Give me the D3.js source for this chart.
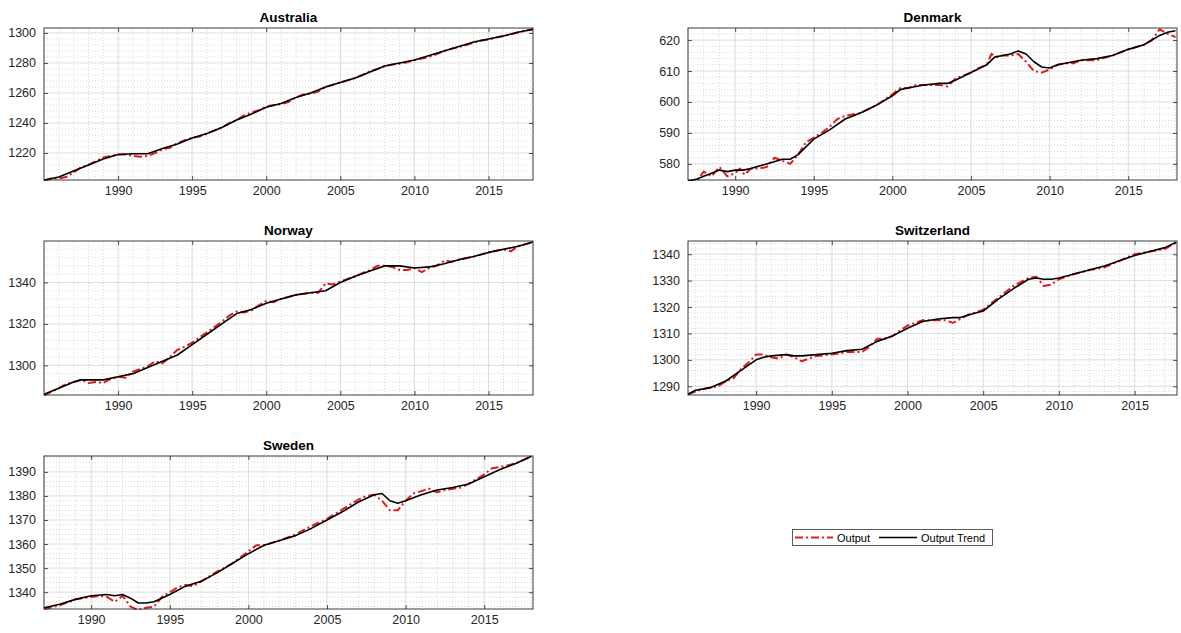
<!DOCTYPE html>
<html>
<head>
<meta charset="utf-8">
<script src="https://cdn.jsdelivr.net/npm/d3@7"></script>
<style>
  body { margin: 0; background: #fff; }
  svg { display: block; font-family: "Liberation Sans", Arial, sans-serif; }
</style>
</head>
<body>
<svg id="chart" width="1181" height="633"></svg>
<script>
// ---- Data: log output level and its trend, [year, value] ----
const australiaOutput = [[1985,1201.5],[1985.5,1203],[1986,1203],[1986.5,1204],[1987,1207],[1987.5,1210.5],[1988,1212],[1988.5,1214.5],[1989,1217],[1989.5,1218],[1990,1219],[1990.5,1219],[1991,1218],[1991.5,1217.5],[1992,1218],[1992.5,1220],[1993,1222.5],[1993.5,1223.5],[1994,1226.5],[1994.5,1228.5],[1995,1230],[1995.5,1231],[1996,1233],[1996.5,1235],[1997,1237],[1997.5,1240],[1998,1242],[1998.5,1245],[1999,1247],[1999.5,1248.5],[2000,1251],[2000.5,1252],[2001,1252.5],[2001.5,1254],[2002,1257],[2002.5,1259],[2003,1259.5],[2003.5,1261],[2004,1264],[2004.5,1265.5],[2005,1267],[2005.5,1268.5],[2006,1270],[2006.5,1272],[2007,1274.5],[2007.5,1276],[2008,1278],[2008.5,1279],[2009,1279.5],[2009.5,1280.5],[2010,1282],[2010.5,1283],[2011,1284],[2011.5,1286],[2012,1288],[2012.5,1289.5],[2013,1290.5],[2013.5,1292],[2014,1293.5],[2014.5,1295],[2015,1295.5],[2015.5,1297],[2016,1298],[2016.5,1299],[2017,1300.5],[2017.5,1301.5],[2018,1302.5]];
const australiaTrend = [[1985,1202],[1986,1204],[1987,1208],[1988,1212],[1989,1216],[1990,1219],[1991,1219.5],[1992,1219.5],[1993,1223],[1994,1226],[1995,1230],[1996,1233],[1997,1237],[1998,1242],[1999,1246],[2000,1250.5],[2001,1253],[2002,1257],[2003,1260],[2004,1264],[2005,1267],[2006,1270],[2007,1274],[2008,1278],[2009,1280],[2010,1282],[2011,1285],[2012,1288],[2013,1291],[2014,1294],[2015,1296],[2016,1298],[2017,1300.5],[2018,1302.5]];

const denmarkOutput = [[1987,574],[1987.5,574],[1988,577.5],[1988.5,576],[1989,579],[1989.5,576],[1990,577],[1990.3,578.5],[1990.6,576.5],[1991,578.5],[1991.5,578.5],[1992,579],[1992.5,582],[1993,581],[1993.5,580],[1994,583],[1994.5,587],[1995,588.5],[1995.5,590],[1996,592],[1996.5,594.5],[1997,595.5],[1998,596.5],[1999,599],[2000,602.5],[2000.5,604.5],[2001,604.5],[2001.5,605.5],[2002,605.5],[2003,605.5],[2003.5,605],[2004,607.5],[2005,609.5],[2005.5,611],[2006,612],[2006.3,615.5],[2006.7,614.5],[2007,615],[2007.5,615],[2008,615.5],[2008.5,613],[2009,610],[2009.5,609.5],[2010,610.5],[2010.5,612],[2011,612.5],[2011.5,612.5],[2012,613.5],[2013,613.5],[2014,615],[2015,617],[2016,618.5],[2016.5,620],[2017,623.5],[2017.5,622],[2018,621]];
const denmarkTrend = [[1987,574.5],[1987.5,575],[1988,576],[1988.5,577],[1989,578],[1989.5,577.5],[1990,578],[1990.5,578],[1991,578.5],[1992,580],[1993,581.5],[1993.5,581.5],[1994,583],[1995,588],[1996,591],[1997,594.5],[1998,596.5],[1999,599],[2000,602],[2000.5,604],[2001,604.5],[2002,605.5],[2003,606],[2003.5,606],[2004,607],[2005,609.5],[2006,612],[2006.5,614.5],[2007,615],[2007.5,615.5],[2008,616.5],[2008.5,615.5],[2009,613],[2009.5,611.3],[2010,611],[2010.5,612],[2011,612.5],[2012,613.5],[2013,614],[2014,615],[2015,617],[2016,618.5],[2017,621.5],[2017.5,622.5],[2018,623]];

const norwayOutput = [[1985,1285.5],[1986,1289],[1986.5,1291],[1987,1292],[1987.5,1293],[1988,1291.5],[1988.5,1292],[1989,1291.5],[1989.5,1293.5],[1990,1294.5],[1990.5,1294],[1991,1297],[1992,1299.5],[1992.5,1302],[1993,1301],[1993.5,1304],[1994,1307.5],[1994.5,1309],[1995,1311],[1996,1316],[1997,1321],[1997.5,1324],[1998,1326],[1998.5,1325.5],[1999,1326.5],[1999.5,1329],[2000,1331],[2000.5,1330.5],[2001,1332],[2002,1334],[2002.5,1334.5],[2003,1335],[2003.5,1335],[2004,1339.5],[2004.5,1339],[2005,1340.5],[2006,1343],[2007,1346],[2007.5,1348],[2008,1348],[2008.5,1347.5],[2009,1346],[2009.5,1346],[2010,1347],[2010.5,1345],[2011,1347],[2011.5,1348],[2012,1350.5],[2012.5,1350],[2013,1351],[2014,1352.5],[2015,1354.5],[2016,1356],[2016.5,1355],[2017,1357.5],[2018,1359.5]];
const norwayTrend = [[1985,1286],[1986,1289],[1987,1292],[1987.5,1293],[1988,1293],[1989,1293],[1990,1294.5],[1991,1296],[1992,1299],[1993,1302],[1994,1305],[1995,1310],[1996,1315],[1997,1320],[1998,1325],[1998.5,1326],[1999,1327],[2000,1330],[2001,1332],[2002,1334],[2003,1335],[2004,1336],[2005,1340],[2006,1343],[2007,1345.5],[2008,1348],[2009,1348],[2010,1347],[2011,1347.5],[2012,1349],[2013,1351],[2014,1352.5],[2015,1354.5],[2016,1356],[2017,1357.5],[2018,1359.5]];

const switzerlandOutput = [[1985.5,1287],[1986,1288],[1986.5,1289],[1987,1289.5],[1987.5,1290],[1988,1292],[1988.5,1293],[1989,1296.5],[1989.5,1299],[1990,1302],[1990.5,1302],[1991,1301],[1991.5,1300.5],[1992,1302],[1992.5,1301],[1993,1299.5],[1993.5,1300.5],[1994,1301.5],[1995,1302],[1995.5,1302.5],[1996,1303],[1997,1303],[1997.5,1305],[1998,1308],[1998.5,1308],[1999,1309],[2000,1313],[2000.5,1314],[2001,1315],[2002,1315],[2002.5,1315],[2003,1314],[2003.5,1315.5],[2004,1317],[2005,1319],[2006,1323.5],[2007,1328],[2008,1331],[2008.5,1331.5],[2009,1328],[2009.5,1328.5],[2010,1330.5],[2011,1332.5],[2012,1334],[2013,1335],[2014,1337.5],[2015,1340],[2016,1341],[2017,1342],[2017.75,1344.5]];
const switzerlandTrend = [[1985.5,1287],[1986,1288.5],[1987,1289.5],[1988,1292],[1989,1296],[1990,1300],[1990.5,1301],[1991,1301.5],[1992,1302],[1992.5,1301.5],[1993,1301.5],[1994,1302],[1995,1302.5],[1996,1303.5],[1997,1304],[1998,1307],[1999,1309],[2000,1312],[2001,1314.5],[2002,1315.5],[2003,1316],[2003.5,1316],[2004,1317],[2005,1318.5],[2006,1323],[2007,1327],[2008,1330.5],[2008.5,1331],[2009,1330.5],[2009.5,1330.5],[2010,1331],[2011,1332.5],[2012,1334],[2013,1335.5],[2014,1337.5],[2015,1339.5],[2016,1341],[2017,1342.5],[2017.75,1344.5]];

const swedenOutput = [[1987,1333],[1988,1334.5],[1989,1337],[1990,1338],[1990.5,1338.5],[1991,1338],[1991.5,1336],[1992,1338.5],[1992.5,1334],[1993,1332.5],[1993.5,1333.5],[1994,1334],[1994.5,1338],[1995,1340],[1995.5,1342],[1996,1343],[1996.5,1342.5],[1997,1344.5],[1998,1348.5],[1999,1352],[2000,1357],[2000.5,1359.5],[2001,1359.5],[2002,1361.5],[2003,1364],[2004,1367.5],[2005,1370.5],[2006,1374.5],[2007,1378.5],[2007.5,1380],[2008,1380.5],[2008.5,1378],[2009,1374],[2009.5,1374],[2010,1378],[2010.5,1381],[2011,1382],[2011.5,1383],[2012,1381.5],[2012.5,1382.5],[2013,1383],[2013.5,1383.5],[2014,1385],[2015,1389],[2015.5,1391.5],[2016,1392],[2017,1393.5],[2018,1396.5]];
const swedenTrend = [[1987,1333.5],[1988,1335],[1989,1337],[1990,1338.5],[1991,1339],[1991.5,1338.5],[1992,1339],[1992.5,1337.5],[1993,1335.5],[1993.5,1335.5],[1994,1336],[1995,1339],[1996,1342.5],[1997,1344.5],[1998,1348],[1999,1352],[2000,1356],[2001,1359.5],[2002,1361.5],[2003,1363.5],[2004,1366.5],[2005,1370],[2006,1373.5],[2007,1377.5],[2008,1380.5],[2008.5,1381],[2009,1378],[2009.5,1377],[2010,1378],[2011,1380.5],[2012,1382.5],[2013,1383.5],[2014,1385],[2015,1388],[2016,1391],[2017,1393.5],[2018,1396.5]];

// ---- Tick labels ----
const yearTicks = [1990, 1995, 2000, 2005, 2010, 2015];
const australiaTicks = [1220, 1240, 1260, 1280, 1300];
const denmarkTicks = [580, 590, 600, 610, 620];
const norwayTicks = [1300, 1320, 1340];
const switzerlandTicks = [1290, 1300, 1310, 1320, 1330, 1340];
const swedenTicks = [1340, 1350, 1360, 1370, 1380, 1390];
const legendLabels = ["Output", "Output Trend"];

// ---- Panel layout ----
const cols = [[44, 533], [688, 1177]];
const rows = [[28, 180], [241, 395], [456, 609]];

const panels = [
  { title: "Australia",   col: 0, row: 0, xDom: [1985, 2018],    yDom: [1202, 1303.3], yTicks: australiaTicks, yMinor: 4, out: australiaOutput, trend: australiaTrend },
  { title: "Denmark",     col: 1, row: 0, xDom: [1987, 2018.1],  yDom: [574.8, 623.9], yTicks: denmarkTicks, yMinor: 2, out: denmarkOutput, trend: denmarkTrend },
  { title: "Norway",      col: 0, row: 1, xDom: [1985, 2018],    yDom: [1285.7, 1360], yTicks: norwayTicks, yMinor: 4, out: norwayOutput, trend: norwayTrend },
  { title: "Switzerland", col: 1, row: 1, xDom: [1985.5, 2017.8], yDom: [1286.7, 1345], yTicks: switzerlandTicks, yMinor: 2, out: switzerlandOutput, trend: switzerlandTrend },
  { title: "Sweden",      col: 0, row: 2, xDom: [1987, 2018.1],  yDom: [1333, 1396.6], yTicks: swedenTicks, yMinor: 2, out: swedenOutput, trend: swedenTrend }
];

const svg = d3.select("#chart");
const axisColor = "#262626";
const outColor = "#e01b1b";

panels.forEach((p, i) => {
  const [x0, x1] = cols[p.col];
  const [y0, y1] = rows[p.row];
  const x = d3.scaleLinear().domain(p.xDom).range([x0, x1]);
  const y = d3.scaleLinear().domain(p.yDom).range([y1, y0]);
  const g = svg.append("g");

  // minor grid (dotted)
  const xMinor = d3.range(Math.ceil(p.xDom[0]), Math.floor(p.xDom[1]) + 1).filter(v => v % 5 !== 0);
  const yStep = p.yTicks[1] - p.yTicks[0];
  const yMinorVals = d3.range(Math.ceil(p.yDom[0] / p.yMinor) * p.yMinor, p.yDom[1], p.yMinor)
    .filter(v => Math.abs(((v % yStep) + yStep) % yStep) > 1e-6);
  g.selectAll(".xm").data(xMinor).join("line")
    .attr("x1", d => x(d)).attr("x2", d => x(d)).attr("y1", y0).attr("y2", y1)
    .attr("stroke", "#c8c8c8").attr("stroke-width", 0.7).attr("stroke-dasharray", "1,2");
  g.selectAll(".ym").data(yMinorVals).join("line")
    .attr("x1", x0).attr("x2", x1).attr("y1", d => y(d)).attr("y2", d => y(d))
    .attr("stroke", "#c8c8c8").attr("stroke-width", 0.7).attr("stroke-dasharray", "1,2");

  // major grid
  g.selectAll(".xg").data(yearTicks).join("line")
    .attr("x1", d => x(d)).attr("x2", d => x(d)).attr("y1", y0).attr("y2", y1)
    .attr("stroke", "#d4d4d4").attr("stroke-width", 0.8);
  g.selectAll(".yg").data(p.yTicks).join("line")
    .attr("x1", x0).attr("x2", x1).attr("y1", d => y(d)).attr("y2", d => y(d))
    .attr("stroke", "#d4d4d4").attr("stroke-width", 0.8);

  // series
  const line = d3.line().x(d => x(d[0])).y(d => y(d[1]));
  const clipId = "clip" + i;
  svg.append("clipPath").attr("id", clipId).append("rect")
    .attr("x", x0).attr("y", y0 - 1).attr("width", x1 - x0).attr("height", y1 - y0 + 2);
  const lines = g.append("g").attr("clip-path", `url(#${clipId})`);
  lines.append("path").datum(p.out).attr("d", line)
    .attr("fill", "none").attr("stroke", outColor).attr("stroke-width", 2)
    .attr("stroke-dasharray", "8,3,2,3").attr("stroke-linejoin", "round");
  lines.append("path").datum(p.trend).attr("d", line)
    .attr("fill", "none").attr("stroke", "#000").attr("stroke-width", 1.6)
    .attr("stroke-linejoin", "round");

  // axes (box with inward ticks on all sides)
  const bottom = g.append("g").attr("transform", `translate(0,${y1})`)
    .call(d3.axisBottom(x).tickValues(yearTicks).tickFormat(d3.format("d")).tickSizeInner(-4).tickSizeOuter(0).tickPadding(6));
  const top = g.append("g").attr("transform", `translate(0,${y0})`)
    .call(d3.axisTop(x).tickValues(yearTicks).tickFormat("").tickSizeInner(-4).tickSizeOuter(0));
  const left = g.append("g").attr("transform", `translate(${x0},0)`)
    .call(d3.axisLeft(y).tickValues(p.yTicks).tickFormat(d3.format("d")).tickSizeInner(-4).tickSizeOuter(0).tickPadding(8));
  const right = g.append("g").attr("transform", `translate(${x1},0)`)
    .call(d3.axisRight(y).tickValues(p.yTicks).tickFormat("").tickSizeInner(-4).tickSizeOuter(0));
  [bottom, top, left, right].forEach(a => {
    a.select(".domain").remove();
    a.selectAll("line").attr("stroke", axisColor).attr("stroke-width", 0.8);
    a.selectAll("text").attr("fill", axisColor).attr("font-size", "12.5px")
      .attr("font-family", "'Liberation Sans', Arial, sans-serif");
  });
  g.append("rect").attr("x", x0).attr("y", y0).attr("width", x1 - x0).attr("height", y1 - y0)
    .attr("fill", "none").attr("stroke", axisColor).attr("stroke-width", 0.9);

  // title
  g.append("text").attr("x", (x0 + x1) / 2).attr("y", y0 - 6)
    .attr("text-anchor", "middle").attr("font-weight", "bold").attr("font-size", "13.5px")
    .attr("fill", "#000").text(p.title);
});

// ---- Legend ----
const lg = svg.append("g");
lg.append("rect").attr("x", 792.5).attr("y", 529.5).attr("width", 200).attr("height", 16)
  .attr("fill", "#fff").attr("stroke", "#333").attr("stroke-width", 0.8);
lg.append("line").attr("x1", 795).attr("x2", 833).attr("y1", 537.5).attr("y2", 537.5)
  .attr("stroke", outColor).attr("stroke-width", 2).attr("stroke-dasharray", "8,3,2,3");
lg.append("text").attr("x", 837).attr("y", 541.5).attr("font-size", "11px").attr("fill", "#000").text(legendLabels[0]);
lg.append("line").attr("x1", 879).attr("x2", 917).attr("y1", 537.5).attr("y2", 537.5)
  .attr("stroke", "#000").attr("stroke-width", 1.4);
lg.append("text").attr("x", 921).attr("y", 541.5).attr("font-size", "11px").attr("fill", "#000").text(legendLabels[1]);
</script>
</body>
</html>
